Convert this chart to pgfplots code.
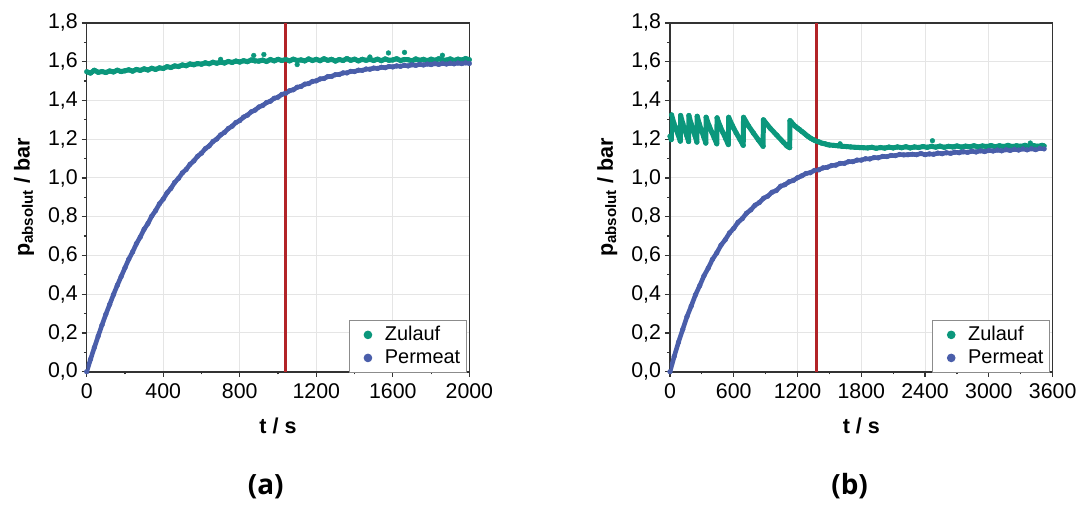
\documentclass[border=0pt]{standalone}
\usepackage{fontspec}
\setmainfont{Liberation Sans}
\newfontfamily\capfont{Open Sans}
\usepackage{pgfplots}
\usepackage{pgfplotstable}
\pgfplotsset{compat=1.18}

\definecolor{ZulaufC}{HTML}{0B977C}
\definecolor{PermeatC}{HTML}{4A5EAA}
\definecolor{MarkerRed}{HTML}{B22328}

% panel (a)
\pgfplotstableread{
t p
0 1.548
20 1.541
40 1.556
60 1.545
80 1.549
100 1.544
120 1.552
140 1.547
160 1.556
180 1.549
200 1.553
220 1.558
240 1.551
260 1.560
280 1.555
300 1.563
320 1.557
340 1.566
360 1.560
380 1.568
400 1.565
420 1.574
440 1.570
460 1.578
480 1.575
500 1.583
520 1.579
540 1.588
560 1.584
580 1.590
600 1.587
620 1.594
640 1.589
660 1.597
680 1.592
700 1.598
720 1.593
740 1.601
760 1.596
780 1.603
800 1.598
820 1.605
840 1.600
860 1.609
880 1.604
900 1.603
920 1.608
940 1.601
960 1.611
980 1.604
1000 1.612
1020 1.606
1040 1.611
1060 1.604
1080 1.613
1100 1.606
1120 1.609
1140 1.604
1160 1.614
1180 1.606
1200 1.612
1220 1.605
1240 1.615
1260 1.607
1280 1.612
1300 1.603
1320 1.611
1340 1.606
1360 1.616
1380 1.607
1400 1.613
1420 1.604
1440 1.612
1460 1.607
1480 1.612
1500 1.606
1520 1.613
1540 1.605
1560 1.614
1580 1.607
1600 1.609
1620 1.615
1640 1.606
1660 1.611
1680 1.610
1700 1.604
1720 1.614
1740 1.607
1760 1.612
1780 1.605
1800 1.613
1820 1.607
1840 1.615
1860 1.609
1880 1.608
1900 1.614
1920 1.606
1940 1.613
1960 1.608
1980 1.616
2000 1.610
}\zulaufa

\pgfplotstableread{
t p
0 0.000
20 0.064
40 0.125
60 0.184
80 0.241
100 0.296
120 0.347
140 0.398
160 0.446
180 0.491
200 0.536
220 0.581
240 0.618
260 0.661
280 0.695
300 0.735
320 0.765
340 0.803
360 0.831
380 0.866
400 0.891
420 0.923
440 0.946
460 0.977
480 0.998
500 1.026
520 1.044
540 1.070
560 1.088
580 1.112
600 1.128
620 1.151
640 1.165
660 1.188
680 1.201
700 1.222
720 1.235
740 1.255
760 1.267
780 1.286
800 1.296
820 1.314
840 1.324
860 1.341
880 1.350
900 1.366
920 1.374
940 1.389
960 1.396
980 1.411
1000 1.417
1020 1.431
1040 1.437
1060 1.450
1080 1.455
1100 1.468
1120 1.472
1140 1.484
1160 1.487
1180 1.498
1200 1.501
1220 1.511
1240 1.513
1260 1.523
1280 1.524
1300 1.533
1320 1.534
1340 1.542
1360 1.542
1380 1.550
1400 1.549
1420 1.556
1440 1.555
1460 1.562
1480 1.561
1500 1.567
1520 1.565
1540 1.571
1560 1.569
1580 1.575
1600 1.573
1620 1.578
1640 1.576
1660 1.581
1680 1.578
1700 1.584
1720 1.581
1740 1.586
1760 1.583
1780 1.588
1800 1.585
1820 1.590
1840 1.586
1860 1.591
1880 1.588
1900 1.592
1920 1.589
1940 1.593
1960 1.590
1980 1.594
2000 1.591
}\permeata

% panel (b)
\pgfplotstableread{
t p
0 1.215
8 1.205
12 1.198
15 1.325
36 1.284
57 1.251
79 1.220
97 1.190
100 1.322
120 1.282
139 1.248
159 1.217
175 1.188
178 1.322
198 1.281
217 1.247
237 1.215
253 1.185
256 1.318
277 1.277
298 1.242
319 1.210
337 1.180
340 1.313
366 1.272
392 1.238
417 1.206
440 1.176
443 1.310
470 1.269
498 1.234
525 1.202
549 1.172
552 1.313
587 1.270
622 1.233
657 1.200
689 1.168
692 1.313
739 1.268
786 1.231
832 1.196
876 1.163
879 1.300
942 1.257
1004 1.221
1067 1.184
1100 1.165
1126 1.156
1129 1.296
1145 1.286
1160 1.276
1180 1.266
1200 1.257
1220 1.249
1240 1.240
1260 1.232
1280 1.222
1300 1.214
1320 1.206
1340 1.200
1360 1.194
1380 1.189
1400 1.186
1420 1.181
1440 1.178
1460 1.176
1480 1.172
1500 1.170
1540 1.168
1580 1.166
1620 1.163
1660 1.162
1700 1.160
1740 1.158
1780 1.157
1820 1.156
1860 1.155
1900 1.158
1940 1.153
1980 1.157
2020 1.154
2060 1.159
2100 1.155
2140 1.160
2180 1.156
2220 1.161
2260 1.155
2300 1.160
2340 1.157
2380 1.162
2420 1.158
2460 1.163
2500 1.159
2540 1.164
2580 1.158
2620 1.163
2660 1.160
2700 1.165
2740 1.159
2780 1.164
2820 1.161
2860 1.166
2900 1.160
2940 1.165
2980 1.162
3020 1.167
3060 1.161
3100 1.166
3140 1.162
3180 1.168
3220 1.162
3260 1.166
3300 1.163
3340 1.168
3380 1.162
3420 1.167
3460 1.163
3500 1.168
3520 1.165
}\zulaufb

\pgfplotstableread{
t p
0 0.000
40 0.079
80 0.152
120 0.218
160 0.284
200 0.339
240 0.397
280 0.444
320 0.495
360 0.535
400 0.580
440 0.613
480 0.653
520 0.681
560 0.716
600 0.740
640 0.771
680 0.790
720 0.818
760 0.835
800 0.859
840 0.873
880 0.895
920 0.906
960 0.926
1000 0.935
1040 0.957
1080 0.965
1120 0.980
1160 0.987
1200 1.001
1240 1.011
1280 1.023
1320 1.027
1360 1.039
1400 1.042
1440 1.052
1480 1.055
1520 1.064
1560 1.066
1600 1.075
1640 1.075
1680 1.084
1720 1.084
1760 1.092
1800 1.092
1840 1.099
1880 1.098
1920 1.105
1960 1.104
2000 1.111
2040 1.110
2080 1.116
2120 1.115
2160 1.121
2200 1.119
2240 1.120
2280 1.122
2320 1.120
2360 1.126
2400 1.120
2440 1.124
2480 1.122
2520 1.128
2560 1.125
2600 1.130
2640 1.127
2680 1.133
2720 1.130
2760 1.135
2800 1.132
2840 1.138
2880 1.134
2920 1.140
2960 1.136
3000 1.142
3040 1.139
3080 1.144
3120 1.140
3160 1.146
3200 1.142
3240 1.148
3280 1.144
3320 1.150
3360 1.145
3400 1.151
3440 1.146
3480 1.153
3520 1.150
}\permeatb

\pgfplotsset{
  druck/.style={
    scale only axis, width=192pt, height=175pt,
    xmin=0, ymin=0, ymax=1.8,
    ytick={0,0.2,0.4,0.6,0.8,1.0,1.2,1.4,1.6,1.8},
    minor x tick num=1, minor y tick num=1,
    tick align=outside, tick pos=left,
    major tick length=2.5pt, minor tick length=1.4pt,
    every tick/.style={black!80, line width=0.6pt},
    axis line style={black!80, line width=0.8pt},
    grid=major, grid style={black!10, line width=0.5pt},
    tick label style={font=\fontsize{10.7}{12}\selectfont},
    /pgf/number format/assume math mode=true,
    y tick label style={xshift=1.5pt, /pgf/number format/.cd, fixed, fixed zerofill, precision=1, use comma, /tikz/.cd},
    x tick label style={/pgf/number format/.cd, 1000 sep={}, /tikz/.cd},
    xlabel={\textbf{t / s}},
    ylabel={\textbf{p\textsubscript{absolut} / bar}},
    label style={font=\fontsize{10.8}{12}\selectfont},
    xlabel style={at={(axis description cs:0.5,-0.154)}, anchor=center},
    ylabel style={at={(axis description cs:-0.164,0.5)}, anchor=center},
    legend style={at={(axis description cs:0.993,-0.003)}, anchor=south east,
      draw=black!45, line width=0.5pt, font=\fontsize{10}{12}\selectfont,
      inner xsep=1pt, inner ysep=1pt, row sep=-1pt},
    legend cell align=left,
    legend image code/.code={
      \path[draw=none, fill=none] (0pt,0pt) -- (15pt,0pt);
      \fill[#1] (8.5pt,0pt) circle (1.9pt);
    },
  },
  zline/.style={ZulaufC, line width=2.5pt, line join=round, forget plot},
  zmark/.style={ZulaufC, only marks, mark=*, mark size=1.2pt, mark options={line width=0.2pt}},
  pline/.style={PermeatC, line width=2.3pt, line join=round, forget plot},
  pmark/.style={PermeatC, only marks, mark=*, mark size=1.2pt, mark options={line width=0.2pt}},
}

\begin{document}
\begin{tikzpicture}
\path (0,0) rectangle (541.5pt,249.5pt);

\begin{axis}[druck, at={(43.5pt,63pt)}, anchor=south west,
  xmax=2000, xtick={0,400,800,1200,1600,2000}]
\addplot[zline] table[x=t, y=p] {\zulaufa};
\addplot[zmark] table[x=t, y=p] {\zulaufa};
\addlegendentry{Zulauf}
\addplot[zmark, forget plot] coordinates {(873,1.632) (926,1.637) (1100,1.585) (1480,1.624) (1577,1.645) (1661,1.648) (1859,1.633) (700,1.612)};
\addplot[pline] table[x=t, y=p] {\permeata};
\addplot[pmark] table[x=t, y=p] {\permeata};
\addlegendentry{Permeat}
\addplot[MarkerRed, line width=1.5pt, forget plot] coordinates {(1040,0) (1040,1.8)};
\end{axis}

\begin{axis}[druck, at={(336.15pt,63pt)}, anchor=south west,
  xmax=3600, xtick={0,600,1200,1800,2400,3000,3600}]
\addplot[zline] table[x=t, y=p] {\zulaufb};
\addplot[zmark] table[x=t, y=p] {\zulaufb};
\addlegendentry{Zulauf}
\addplot[zmark, forget plot] coordinates {(2469,1.192) (3390,1.180) (1600,1.176)};
\addplot[pline] table[x=t, y=p] {\permeatb};
\addplot[pmark] table[x=t, y=p] {\permeatb};
\addlegendentry{Permeat}
\addplot[MarkerRed, line width=1.5pt, forget plot] coordinates {(1375,0) (1375,1.8)};
\end{axis}

\node[font=\capfont\bfseries\fontsize{14}{16}\selectfont] at (133.3pt,5.5pt) {(a)};
\node[font=\capfont\bfseries\fontsize{14}{16}\selectfont] at (426.3pt,5.5pt) {(b)};
\end{tikzpicture}
\end{document}
